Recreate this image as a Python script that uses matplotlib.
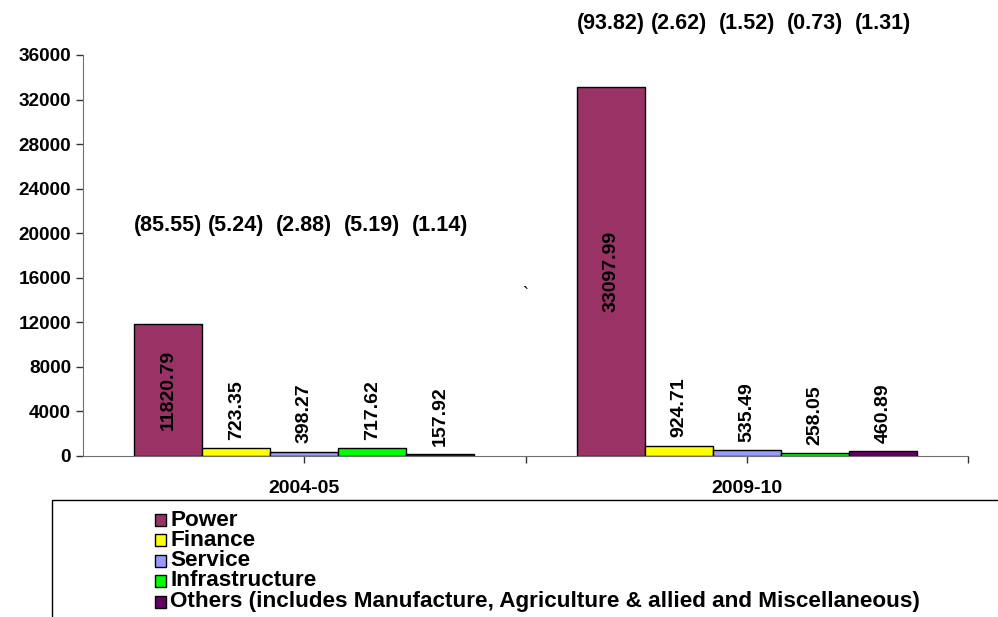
import matplotlib.pyplot as plt
from matplotlib.patches import Rectangle

# Data
years = ['2004-05', '2009-10']
sectors = ['Power', 'Finance', 'Service', 'Infrastructure',
           'Others (includes Manufacture, Agriculture & allied and Miscellaneous)']
power = [11820.79, 33097.99]
finance = [723.35, 924.71]
service = [398.27, 535.49]
infrastructure = [717.62, 258.05]
others = [157.92, 460.89]
shares_0405 = ['(85.55)', '(5.24)', '(2.88)', '(5.19)', '(1.14)']
shares_0910 = ['(93.82)', '(2.62)', '(1.52)', '(0.73)', '(1.31)']
yticks = [0, 4000, 8000, 12000, 16000, 20000, 24000, 28000, 32000, 36000]

colors = ['#993366', '#FFFF00', '#9999FF', '#00FF00', '#660066']
series = [power, finance, service, infrastructure, others]

plt.rcParams['font.family'] = ['Liberation Sans', 'DejaVu Sans']

fig = plt.figure(figsize=(9.98, 6.17), dpi=100)
ax = fig.add_axes([83 / 998, 161 / 617, 885 / 998, 401 / 617])

w = 0.1537
x = [0, 1]
for i, vals in enumerate(series):
    pos = [xi + (i - 2) * w for xi in x]
    ax.bar(pos, vals, width=w, color=colors[i], edgecolor='black', linewidth=1, zorder=2)
    for p, v in zip(pos, vals):
        if i == 0:
            ax.text(p, v / 2, f'{v:.2f}', rotation=90, ha='center', va='center',
                    fontsize=14, fontweight='bold')
        else:
            ax.annotate(f'{v:.2f}', (p, v), xytext=(0, 6), textcoords='offset points',
                        rotation=90, ha='center', va='bottom', fontsize=14, fontweight='bold')

# share labels (percent)
for i, s in enumerate(shares_0405):
    ax.text(0 + (i - 2) * w, 20700, s, ha='center', va='center', fontsize=15.5,
            fontweight='bold', clip_on=False)
for i, s in enumerate(shares_0910):
    ax.text(1 + (i - 2) * w, 38850, s, ha='center', va='center', fontsize=15.5,
            fontweight='bold', clip_on=False)
ax.text(0.5, 14450, '`', ha='center', va='center', fontsize=13)

ax.set_xlim(-0.5, 1.5)
ax.set_ylim(0, 36000)
ax.set_yticks(yticks)
ax.set_yticklabels([str(t) for t in yticks], fontsize=13.7, fontweight='bold')
ax.set_xticks(x)
ax.set_xticklabels(years, fontsize=14, fontweight='bold')
ax.set_xticks([0.5, 1.5], minor=True)
ax.tick_params(axis='both', colors='#333333', labelcolor='black', length=5, width=1)
ax.tick_params(axis='x', which='minor', colors='#333333', length=5, width=1)
ax.tick_params(axis='x', pad=12)
for sp in ['top', 'right']:
    ax.spines[sp].set_visible(False)
for sp in ['left', 'bottom']:
    ax.spines[sp].set_color('#707070')

# legend box
fig.patches.append(Rectangle((52 / 998, -0.1), 1.0, 117 / 617 + 0.1, transform=fig.transFigure,
                             facecolor='white', edgecolor='black', linewidth=1))
row_y = [520, 540, 561, 581, 602]
for i, name in enumerate(sectors):
    yc = 1 - row_y[i] / 617
    fig.patches.append(Rectangle((155 / 998, yc - 6 / 617), 11 / 998, 12 / 617,
                                 transform=fig.transFigure, facecolor=colors[i],
                                 edgecolor='black', linewidth=1))
    fig.text(170 / 998, yc, name, ha='left', va='center', fontsize=16.2, fontweight='bold')

fig.savefig('out.png', dpi=100)
